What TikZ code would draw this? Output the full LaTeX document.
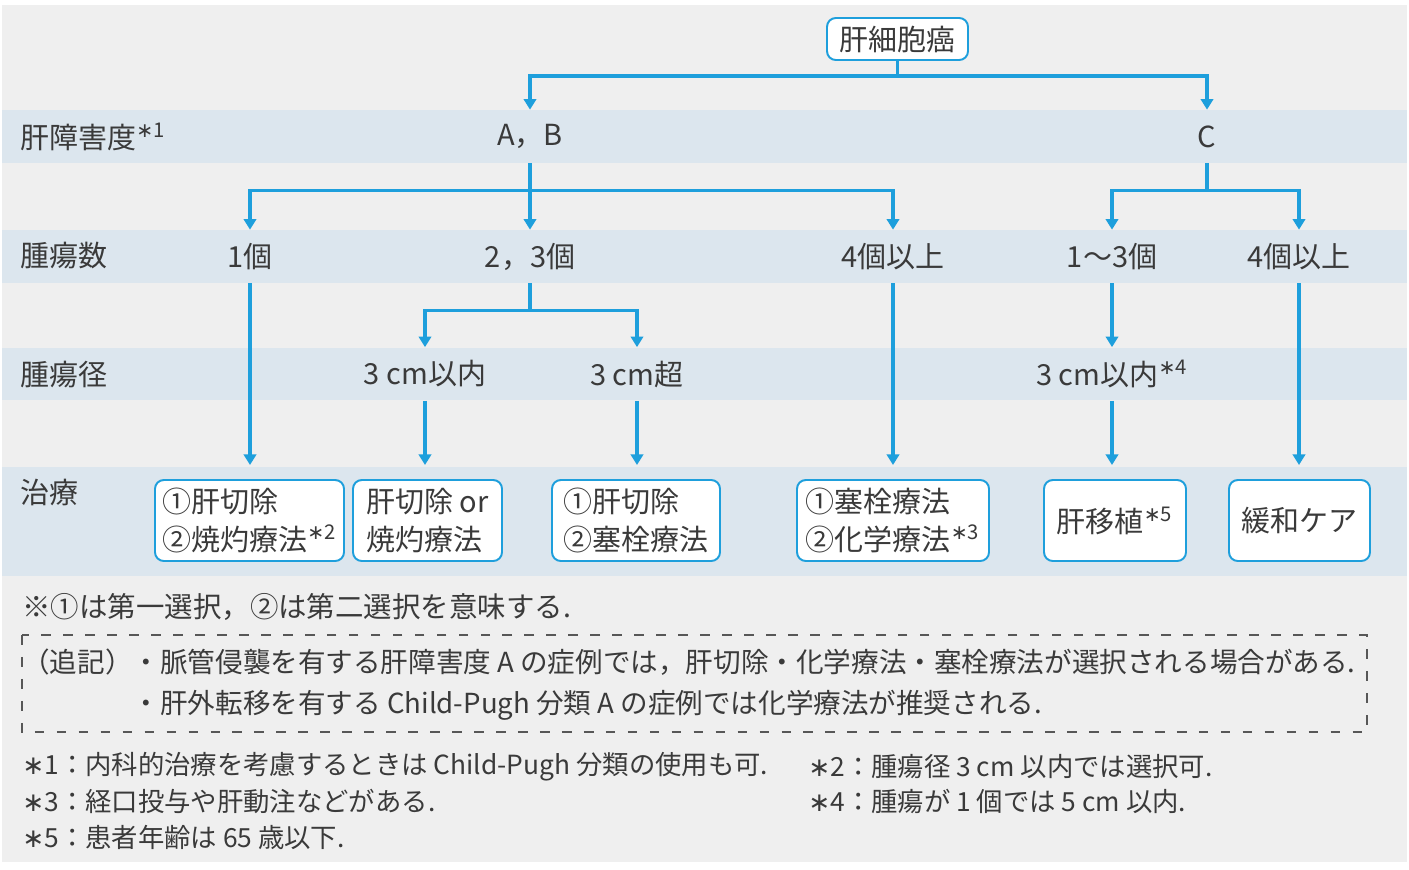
\documentclass[tikz,border=0pt]{standalone}
\usepackage{fontspec}
\setmainfont{Noto Sans CJK JP}
\newfontfamily\symfont{DejaVu Sans}
\usetikzlibrary{arrows.meta}
\definecolor{flowblue}{HTML}{1E9FDC}
\definecolor{bandblue}{HTML}{DCE6EE}
\definecolor{paper}{HTML}{EFEFEF}
\definecolor{ink}{HTML}{3A3A3A}
\newlength\px \setlength\px{0.02cm}
\newcommand\lblfont{\fontsize{16.5}{22}\selectfont}
\newcommand\selfont{\fontsize{16.2}{23}\selectfont}
\newcommand\addlfont{\fontsize{15.7}{23}\selectfont}
\newcommand\notefont{\fontsize{15}{23}\selectfont}
\newcommand\fnstar{{\symfont ∗}}
\newcommand\fnref[1]{\textsuperscript{\fnstar#1}}
\tikzset{
  flow/.style={draw=flowblue, line width=1.8pt, -{Triangle[width=7pt,length=6pt]}},
  stem/.style={draw=flowblue, line width=1.8pt},
  level/.style={text=ink, font=\lblfont, inner sep=0pt, minimum height=53\px},
  rowname/.style={text=ink, font=\lblfont, inner sep=0pt, anchor=west},
  therapy/.style={draw=flowblue, line width=1.1pt, fill=white, rounded corners=5pt,
    text=ink, font=\lblfont, align=left, minimum height=81\px, inner sep=2pt},
  note/.style={text=ink, font=\notefont, inner sep=0pt, anchor=west, align=left},
}
\begin{document}
\begin{tikzpicture}[x=0.02cm, y=-0.02cm]
\useasboundingbox (0,0) rectangle (1409,869);
\fill[white] (0,0) rectangle (1409,869);
\fill[paper] (2,5) rectangle (1407,862);
% bandes
\foreach \ya/\yb in {110/163, 230/283, 348/400, 467/576}
  \fill[bandblue] (2,\ya) rectangle (1407,\yb);
% titres des lignes
\node[rowname] (hdr1) at (20,137) {肝障害度\fnref{1}};
\node[rowname] (hdr2) at (20,256) {腫瘍数};
\node[rowname] (hdr3) at (20,375) {腫瘍径};
\node[rowname] (hdr4) at (20,492) {治療};
% arbre
\node[therapy, align=center, minimum height=42\px, minimum width=141\px] (hcc) at (897.5,39) {肝細胞癌};
\node[level] (ab) at (530,136.5) {A，B};
\node[level] (c) at (1207,136.5) {C};
\node[level] (n1) at (250,256.5) {1個};
\node[level] (n23) at (530,256.5) {2，3個};
\node[level] (n4) at (893,256.5) {4個以上};
\node[level] (m13) at (1112,256.5) {1〜3個};
\node[level] (m4) at (1299,256.5) {4個以上};
\node[level] (d3in) at (425,374) {3 cm以内};
\node[level] (d3over) at (637,374) {3 cm超};
\node[level] (dliv) at (1112,374) {3 cm以内\fnref{4}};
% traitements
\node[therapy, minimum width=189\px] (t1) at (249.5,520.5) {①肝切除\\②焼灼療法\fnref{2}};
\node[therapy, minimum width=149\px] (t2) at (427.5,520.5) {肝切除 or\\焼灼療法};
\node[therapy, minimum width=168\px] (t3) at (636,520.5) {①肝切除\\②塞栓療法};
\node[therapy, minimum width=192\px] (t4) at (893,520.5) {①塞栓療法\\②化学療法\fnref{3}};
\node[therapy, align=center, minimum width=142\px] (t5) at (1115,520.5) {肝移植\fnref{5}};
\node[therapy, align=center, minimum width=141\px] (t6) at (1299.5,520.5) {緩和ケア};
\coordinate (r4) at (0,465);
% connecteurs
\draw[stem] (hcc.south) -- ++(0,15) coordinate (j0);
\foreach \n in {ab,c} \draw[flow] (j0) -| (\n.north);
\draw[stem] (ab.south) -- ++(0,27) coordinate (j1);
\foreach \n in {n1,n23,n4} \draw[flow] (j1) -| (\n.north);
\draw[stem] (c.south) -- ++(0,27) coordinate (j2);
\foreach \n in {m13,m4} \draw[flow] (j2) -| (\n.north);
\draw[stem] (n23.south) -- ++(0,27) coordinate (j3);
\foreach \n in {d3in,d3over} \draw[flow] (j3) -| (\n.north);
\draw[flow] (m13.south) -- (dliv.north);
\foreach \n in {n1,d3in,d3over,n4,dliv,m4} \draw[flow] (\n.south) -- (\n.south |- r4);
% notes
\node[note, font=\selfont] (sel) at (22,607) {※①は第一選択，②は第二選択を意味する.};
\draw[ink!85, line width=0.7pt, dash pattern=on 5.5pt off 7pt] (22,635) rectangle (1367,732);
\node[note, font=\addlfont] (addl) at (22,684.5) {（追記）・脈管侵襲を有する肝障害度 A の症例では，肝切除・化学療法・塞栓療法が選択される場合がある.\\\phantom{（追記）}・肝外転移を有する Child-Pugh 分類 A の症例では化学療法が推奨される.};
\node[note] (f1) at (22,767) {\fnstar1：内科的治療を考慮するときは Child-Pugh 分類の使用も可.};
\node[note] (f3) at (22,801) {\fnstar3：経口投与や肝動注などがある.};
\node[note] (f5) at (22,837) {\fnstar5：患者年齢は 65 歳以下.};
\node[note] (f2) at (808,767) {\fnstar2：腫瘍径 3 cm 以内では選択可.};
\node[note] (f4) at (808,801) {\fnstar4：腫瘍が 1 個では 5 cm 以内.};
\end{tikzpicture}
\end{document}
